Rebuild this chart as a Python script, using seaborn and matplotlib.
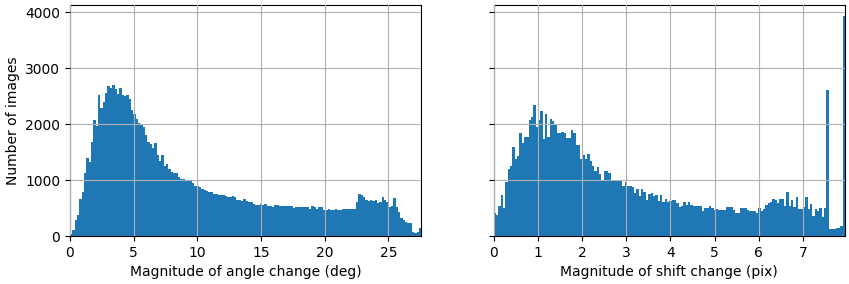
import numpy as np
import pandas as pd
import matplotlib
matplotlib.use("Agg")
import matplotlib.pyplot as plt
import seaborn as sns

# ---- data ----
angle_max = 27.6
shift_max = 7.95
n_bins = 150

angle_counts = [
    36, 107, 285, 375, 660, 785, 1125, 1390, 1320, 1680,
    2070, 1965, 2520, 2285, 2390, 2555, 2680, 2640, 2700, 2625,
    2535, 2640, 2520, 2500, 2520, 2445, 2250, 2180, 2090, 2020,
    1980, 1945, 1800, 1680, 1640, 1570, 1660, 1445, 1340, 1445,
    1250, 1290, 1200, 1140, 1125, 1125, 1055, 1020, 1020, 1000,
    1000, 980, 945, 890, 890, 880, 840, 820, 800, 780,
    790, 760, 750, 740, 730, 735, 720, 700, 700, 710,
    690, 640, 650, 620, 660, 630, 610, 600, 580, 560,
    555, 565, 560, 570, 545, 530, 525, 560, 550, 545,
    545, 540, 540, 530, 540, 500, 520, 510, 520, 510,
    510, 510, 490, 540, 510, 480, 510, 520, 470, 470,
    480, 470, 460, 480, 460, 470, 480, 480, 480, 480,
    480, 485, 600, 750, 740, 700, 650, 630, 640, 630,
    650, 590, 600, 700, 640, 610, 520, 540, 680, 510,
    430, 330, 280, 245, 240, 240, 70, 55, 65, 150,
]

shift_counts = [
    417, 375, 535, 730, 500, 965, 1195, 1250, 1595, 1375,
    1435, 1835, 1670, 1775, 1775, 2070, 2120, 2340, 1950, 2070,
    2230, 1740, 2190, 1775, 2095, 2060, 1980, 1845, 1845, 1860,
    1850, 1755, 1755, 1890, 1845, 1625, 1625, 1370, 1445, 1370,
    1465, 1340, 1250, 1165, 1240, 1105, 1000, 1160, 1160, 1120,
    1000, 1000, 980, 980, 980, 900, 970, 895, 895, 875,
    775, 845, 710, 835, 785, 645, 750, 770, 710, 725,
    625, 730, 615, 660, 615, 625, 645, 645, 585, 525,
    540, 615, 555, 600, 555, 535, 535, 535, 535, 450,
    495, 495, 535, 495, 465, 475, 465, 465, 465, 510,
    510, 510, 465, 405, 420, 495, 495, 495, 465, 445,
    450, 450, 405, 495, 445, 475, 555, 595, 610, 670,
    645, 585, 655, 655, 540, 780, 535, 645, 525, 690,
    475, 475, 510, 695, 480, 570, 357, 490, 445, 500,
    340, 500, 2620, 125, 125, 130, 137, 137, 178, 3935,
]

x_labels = ["Magnitude of angle change (deg)", "Magnitude of shift change (pix)"]
y_label = "Number of images"

# ---- figure ----
fig, axes = plt.subplots(1, 2, figsize=(8.49, 2.84), dpi=100, sharey=True)
fig.subplots_adjust(left=70/849, right=845/849, top=1-5/284, bottom=1-236/284,
                    wspace=72/351)

panels = [(angle_counts, angle_max), (shift_counts, shift_max)]
for ax, (counts, vmax), xl in zip(axes, panels, x_labels):
    edges = np.linspace(0, vmax, n_bins + 1)
    centers = (edges[:-1] + edges[1:]) / 2
    df = pd.DataFrame({"value": centers, "count": np.asarray(counts, float)})
    sns.histplot(data=df, x="value", weights="count", bins=list(edges), ax=ax,
                 color="#1f77b4", alpha=1, linewidth=0, edgecolor="none")
    ax.set_xlim(0, vmax)
    ax.grid(True, color="#b0b0b0", linewidth=0.8)
    ax.set_axisbelow(False)
    ax.set_xlabel(xl)
    ax.set_ylabel("")

axes[0].set_ylabel(y_label)
axes[0].set_xticks([0, 5, 10, 15, 20, 25])
axes[1].set_xticks([0, 1, 2, 3, 4, 5, 6, 7])
axes[0].set_yticks([0, 1000, 2000, 3000, 4000])

fig.savefig("out.png", dpi=100)
